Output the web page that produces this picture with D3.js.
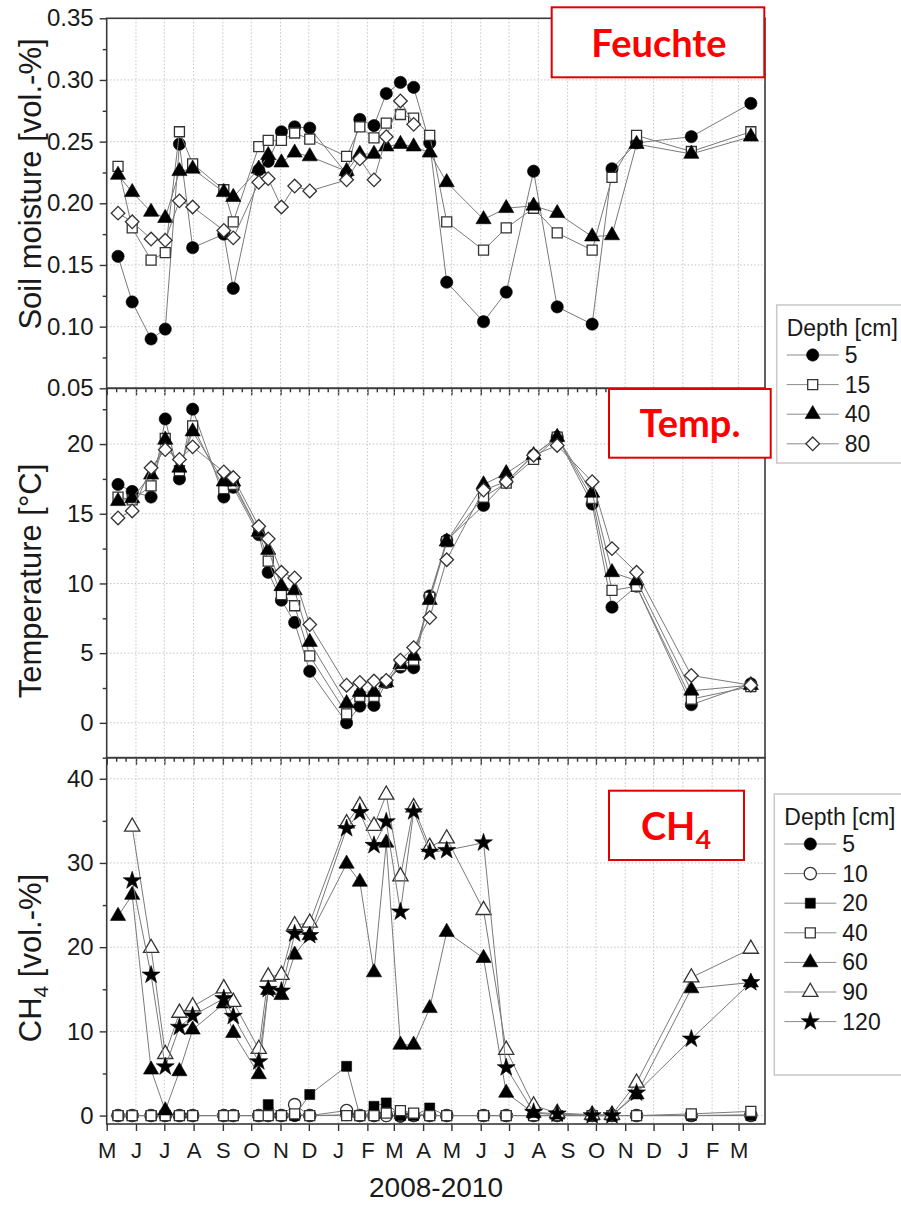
<!DOCTYPE html>
<html lang="en">
<head>
<meta charset="UTF-8">
<title>Soil moisture, temperature and CH4, 2008-2010</title>
<script src="https://d3js.org/d3.v7.min.js"></script>
<style>
  body { margin: 0; background: #fff; }
  svg { display: block; font-family: "Liberation Sans", Arial, sans-serif; }
  .grid line { stroke: #c4c4c4; stroke-width: 1; stroke-dasharray: 1.5 2; }
  .frame { fill: none; stroke: #3a3a3a; stroke-width: 1.6; }
  .axis path.domain { display: none; }
  .axis line { stroke: #333; stroke-width: 1.4; }
  .axis text { fill: #1a1a1a; }
  .series path.line { fill: none; stroke: #7a7a7a; stroke-width: 1; }
  .legend-box { fill: #fff; stroke: #c8c8c8; stroke-width: 1.5; }
  .tag rect { fill: #fff; stroke: #e00000; stroke-width: 2; }
  .tag text { fill: #ff0000; font-family: Lato, "Open Sans", sans-serif; font-weight: bold; }
</style>
</head>
<body>
<svg width="901" height="1205"></svg>
<script>
// sampling dates (same for all three panels)
const dates = [
  "2008-05-13", "2008-05-28", "2008-06-17", "2008-07-02", "2008-07-17", "2008-07-31",
  "2008-09-02", "2008-09-12", "2008-10-09", "2008-10-19", "2008-11-02", "2008-11-16",
  "2008-12-02", "2009-01-10", "2009-01-24", "2009-02-08", "2009-02-21", "2009-03-08",
  "2009-03-22", "2009-04-08", "2009-04-26", "2009-06-04", "2009-06-28", "2009-07-27",
  "2009-08-21", "2009-09-27", "2009-10-18", "2009-11-13", "2010-01-10", "2010-03-14"
];

// soil moisture [vol.-%] by depth
const moist5  = [0.157, 0.120, 0.090, 0.098, 0.248, 0.164, 0.175, 0.131, 0.227, 0.234, 0.258, 0.262, 0.261, 0.224, 0.268, 0.263, 0.289, 0.298, 0.294, 0.249, 0.136, 0.104, 0.128, 0.226, 0.116, 0.102, 0.228, 0.249, 0.254, 0.281];
const moist15 = [0.230, 0.180, 0.154, 0.160, 0.258, 0.232, 0.211, 0.185, 0.246, 0.251, 0.251, 0.257, 0.252, 0.238, 0.262, 0.253, 0.265, 0.272, 0.269, 0.255, 0.185, 0.162, 0.180, 0.196, 0.176, 0.162, 0.221, 0.255, 0.242, 0.258];
const moist40 = [0.223, 0.209, 0.193, 0.188, 0.226, 0.228, 0.209, 0.205, 0.228, 0.239, 0.233, 0.241, 0.238, 0.226, 0.240, 0.240, 0.246, 0.248, 0.246, 0.241, 0.217, 0.187, 0.196, 0.198, 0.192, 0.173, 0.174, 0.248, 0.240, 0.254];
const moist80 = [0.192, 0.185, 0.171, 0.170, 0.202, 0.197, 0.178, 0.172, 0.217, 0.220, 0.197, 0.214, 0.210, 0.219, 0.236, 0.219, 0.254, 0.283, 0.264, null, null, null, null, null, null, null, null, null, null, null];

// soil temperature [°C] by depth
const temp5  = [17.1, 16.6, 16.2, 21.8, 17.5, 22.5, 16.2, 16.9, 13.5, 10.8, 8.8, 7.2, 3.7, 0.0, 1.2, 1.25, 2.9, 4.0, 3.95, 9.1, 13.1, 15.6, 17.3, 19.2, 20.5, 15.7, 8.3, 9.8, 1.3, 2.8];
const temp15 = [16.2, 16.0, 17.0, 20.4, 18.1, 21.3, 16.8, 17.1, 13.7, 11.6, 9.2, 8.4, 4.8, 0.65, 1.9, 1.9, 2.9, 4.1, 4.5, 9.0, 13.0, 16.2, 17.2, 18.9, 20.5, 16.1, 9.5, 9.8, 1.7, 2.6];
const temp40 = [15.9, 16.1, 17.8, 20.3, 18.3, 20.9, 17.3, 17.3, 13.7, 12.4, 9.8, 9.5, 5.8, 1.4, 2.2, 2.2, 2.9, 4.2, 4.8, 8.8, 13.0, 17.1, 17.9, 19.2, 20.5, 16.5, 10.8, 10.2, 2.3, 2.7];
const temp80 = [14.7, 15.2, 18.3, 19.6, 18.9, 19.8, 18.0, 17.6, 14.1, 13.2, 10.8, 10.4, 7.05, 2.7, 2.9, 3.0, 3.05, 4.5, 5.4, 7.55, 11.7, 16.7, 17.3, 19.2, 19.9, 17.3, 12.5, 10.8, 3.4, 2.7];

// CH4 [vol.-%] by depth
const ch4_5   = [0, 0, 0, 0, 0, 0, 0, 0, 0, 0, 0, 0, 0, 0.1, 0, 0, 0, -0.1, 0, 0, 0, 0, 0, 0, 0, 0, 0, 0, 0, 0.1];
const ch4_10  = [0, 0, 0, 0, 0, 0, 0, 0, 0, 0, 0, 1.3, 0, 0.6, 0, 0, 0, 0, 0, 0, 0, 0, 0, 0, 0, 0, 0, 0, 0, 0];
const ch4_20  = [0, 0, 0, 0, 0, 0, 0, 0, 0, 1.3, 0, 0, 2.5, 5.85, 0, 1.1, 1.5, 0, 0, 0.9, 0, 0, 0, 0, 0, 0, 0, 0, 0, 0];
const ch4_40  = [0, 0, 0, 0, 0, 0, 0, 0, 0, 0, 0, 0.2, 0, 0, 0, 0, 0.3, 0.6, 0.3, 0, 0, 0, 0, 0, 0, 0, 0, 0, 0.2, 0.5];
const ch4_60  = [23.7, 26.2, 5.45, 0.6, 5.25, 10.2, 13.3, 9.8, 4.9, 14.9, 14.3, 19.1, 21.4, 29.9, 27.75, 17.0, 32.4, 8.4, 8.4, 12.75, 21.8, 18.7, 2.7, 0.3, 0.1, 0, 0, 2.5, 15.1, 15.8];
const ch4_90  = [null, 34.3, 19.9, 7.3, 12.2, 12.95, 15.1, 13.5, 7.9, 16.5, 16.7, 22.6, 22.9, 34.7, 36.8, 34.4, 38.1, 28.4, 36.6, 31.9, 32.9, 24.4, 7.8, 1.2, 0.3, 0.1, 0.1, 3.9, 16.4, 19.8];
const ch4_120 = [null, 27.9, 16.7, 5.8, 10.5, 11.85, 13.9, 11.8, 6.4, 15.0, 14.8, 21.6, 21.4, 34.1, 36.0, 32.1, 34.9, 24.2, 36.1, 31.3, 31.5, 32.4, 5.7, 0.4, 0.2, 0, 0, 2.7, 9.1, 15.8];

const moistTicks = [0.05, 0.10, 0.15, 0.20, 0.25, 0.30, 0.35];
const tempTicks = [0, 5, 10, 15, 20];
const ch4Ticks = [0, 10, 20, 30, 40];

const svg = d3.select("svg");
const parse = d3.timeParse("%Y-%m-%d");
const when = dates.map(parse);

const left = 106.7, right = 765;
const x = d3.scaleTime()
  .domain([new Date(2008, 4, 1), new Date(2010, 2, 29)])
  .range([left, right]);

// marker shapes
const sym = {
  circle: d3.symbol(d3.symbolCircle, 118)(),
  square: d3.symbol(d3.symbolSquare, 100)(),
  triangle: d3.symbol(d3.symbolTriangle, 100)(),
  diamond: d3.symbol(d3.symbolSquare, 92)(),
  star: d3.symbol(d3.symbolStar, 100)()
};
const filled = { fill: "#000", stroke: "#000", sw: 0.6 };
const open = { fill: "#fff", stroke: "#333", sw: 1.3 };

const panels = [
  {
    top: 18.3, bottom: 388.3, domain: [0.05, 0.35], ticks: moistTicks, minorStep: 0.025,
    fmt: d3.format(".2f"), xLabels: false, tag: "Feuchte",
    tagBox: [551.7, 7.3, 212.6, 70], tagText: [659, 57],
    label: "Soil moisture [vol.-%]", labelY: 184,
    legend: { x: 776.7, y: 305, h: 158 },
    series: [
      { name: "5", values: moist5, shape: "circle", style: filled },
      { name: "15", values: moist15, shape: "square", style: open },
      { name: "40", values: moist40, shape: "triangle", style: filled },
      { name: "80", values: moist80, shape: "diamond", style: open }
    ]
  },
  {
    top: 388.3, bottom: 757.7, domain: [-2.5, 24], ticks: tempTicks, minorStep: 2.5,
    fmt: d3.format("d"), xLabels: false, tag: "Temp.",
    tagBox: [609, 389, 161.7, 68.7], tagText: [690, 437],
    label: "Temperature [°C]", labelY: 581,
    series: [
      { name: "5", values: temp5, shape: "circle", style: filled },
      { name: "15", values: temp15, shape: "square", style: open },
      { name: "40", values: temp40, shape: "triangle", style: filled },
      { name: "80", values: temp80, shape: "diamond", style: open }
    ]
  },
  {
    top: 757.7, bottom: 1124, domain: [-1, 42.5], ticks: ch4Ticks, minorStep: 5,
    fmt: d3.format("d"), xLabels: true, tag: "CH4",
    tagBox: [609, 790.7, 135, 69.3], tagText: [676, 840],
    label: "CH4 [vol.-%]", labelY: 958,
    legend: { x: 774.3, y: 794, h: 281 },
    series: [
      { name: "5", values: ch4_5, shape: "circle", style: filled },
      { name: "10", values: ch4_10, shape: "circle", style: open },
      { name: "20", values: ch4_20, shape: "square", style: filled },
      { name: "40", values: ch4_40, shape: "square", style: open },
      { name: "60", values: ch4_60, shape: "triangle", style: filled },
      { name: "90", values: ch4_90, shape: "triangle", style: open },
      { name: "120", values: ch4_120, shape: "star", style: filled }
    ]
  }
];

function marker(sel, s) {
  sel.append("path")
    .attr("d", sym[s.shape])
    .attr("transform", s.shape === "diamond" ? "rotate(45)" : null)
    .attr("fill", s.style.fill)
    .attr("stroke", s.style.stroke)
    .attr("stroke-width", s.style.sw);
}

const months = x.ticks(d3.timeMonth.every(1));

panels.forEach(p => {
  const y = d3.scaleLinear().domain(p.domain).range([p.bottom, p.top]);
  const g = svg.append("g");

  // grid
  const grid = g.append("g").attr("class", "grid");
  grid.selectAll("line.v").data(months.filter(m => x(m) > left + 1)).join("line")
    .attr("x1", d => x(d)).attr("x2", d => x(d))
    .attr("y1", p.top).attr("y2", p.bottom);
  grid.selectAll("line.h").data(p.ticks.filter(t => y(t) > p.top + 1 && y(t) < p.bottom - 1)).join("line")
    .attr("x1", left).attr("x2", right)
    .attr("y1", d => y(d)).attr("y2", d => y(d));

  // y axis, major and minor ticks
  const minor = d3.range(Math.ceil(p.domain[0] / p.minorStep) * p.minorStep, p.domain[1] + 1e-9, p.minorStep)
    .filter(v => !p.ticks.some(t => Math.abs(t - v) < 1e-9));
  g.append("g").attr("class", "axis")
    .attr("transform", `translate(${left},0)`)
    .call(d3.axisLeft(y).tickValues(minor).tickSize(4).tickFormat(""));
  g.append("g").attr("class", "axis")
    .attr("transform", `translate(${left},0)`)
    .call(d3.axisLeft(y).tickValues(p.ticks).tickSize(7).tickPadding(6).tickFormat(p.fmt))
    .selectAll("text").attr("font-size", 24);

  // x axis
  const xa = g.append("g").attr("class", "axis")
    .attr("transform", `translate(0,${p.bottom})`);
  if (p.xLabels) {
    xa.call(d3.axisBottom(x).tickValues(months).tickSize(7).tickPadding(11)
      .tickFormat(d => d3.timeFormat("%B")(d).charAt(0)))
      .selectAll("text").attr("font-size", 22);
  } else {
    const tenDays = d3.timeDay.range(x.domain()[0], x.domain()[1])
      .filter(d => d.getDate() === 11 || d.getDate() === 21);
    xa.call(d3.axisBottom(x).tickValues(tenDays).tickSize(4).tickFormat(""));
    xa.call(g2 => g2.append("g").call(d3.axisBottom(x).tickValues(months).tickSize(7).tickFormat("")));
  }

  // series
  const line = d3.line()
    .defined(d => d.v !== null)
    .x(d => x(d.t)).y(d => y(d.v));
  p.series.forEach(s => {
    const pts = s.values.map((v, i) => ({ t: when[i], v }));
    const sg = g.append("g").attr("class", "series");
    sg.append("path").attr("class", "line").attr("d", line(pts));
    sg.selectAll("g.pt").data(pts.filter(d => d.v !== null)).join("g")
      .attr("class", "pt")
      .attr("transform", d => `translate(${x(d.t)},${y(d.v)})`)
      .each(function () { marker(d3.select(this), s); });
  });

  // frame
  g.append("rect").attr("class", "frame")
    .attr("x", left).attr("y", p.top)
    .attr("width", right - left).attr("height", p.bottom - p.top);

  // y label
  const lab = svg.append("text")
    .attr("transform", `translate(41,${p.labelY}) rotate(-90)`)
    .attr("text-anchor", "middle")
    .attr("font-size", 31)
    .attr("fill", "#1a1a1a");
  if (p.label.startsWith("CH4")) {
    lab.append("tspan").text("CH");
    lab.append("tspan").attr("font-size", 21).attr("dy", 7).text("4");
    lab.append("tspan").attr("dy", -7).text(" [vol.-%]");
  } else {
    lab.text(p.label);
  }

  // red tag box
  const tag = svg.append("g").attr("class", "tag");
  tag.append("rect")
    .attr("x", p.tagBox[0]).attr("y", p.tagBox[1])
    .attr("width", p.tagBox[2]).attr("height", p.tagBox[3]);
  const tt = tag.append("text")
    .attr("x", p.tagText[0]).attr("y", p.tagText[1])
    .attr("text-anchor", "middle").attr("font-size", 38);
  if (p.tag === "CH4") {
    tt.append("tspan").text("CH");
    tt.append("tspan").attr("font-size", 27).attr("dy", 9).text("4");
  } else {
    tt.text(p.tag);
  }
});

// legends
panels.filter(p => p.legend).forEach(p => {
  const L = p.legend;
  const lg = svg.append("g").attr("transform", `translate(${L.x},${L.y})`);
  lg.append("rect").attr("class", "legend-box")
    .attr("x", 0).attr("y", 0).attr("width", 140).attr("height", L.h);
  lg.append("text").attr("x", 10).attr("y", 31)
    .attr("font-size", 23).attr("fill", "#1a1a1a").text("Depth [cm]");
  p.series.forEach((s, i) => {
    const row = lg.append("g").attr("transform", `translate(0,${50 + i * 29.6})`);
    row.append("line").attr("x1", 10).attr("x2", 62)
      .attr("stroke", "#8a8a8a").attr("stroke-width", 1);
    const m = row.append("g").attr("transform", "translate(36,0)");
    marker(m, s);
    row.append("text").attr("x", 68).attr("y", 8)
      .attr("font-size", 23).attr("fill", "#1a1a1a").text(s.name);
  });
});

// x axis title
svg.append("text")
  .attr("x", 436).attr("y", 1197)
  .attr("text-anchor", "middle")
  .attr("font-size", 28)
  .attr("fill", "#1a1a1a")
  .text("2008-2010");
</script>
</body>
</html>
